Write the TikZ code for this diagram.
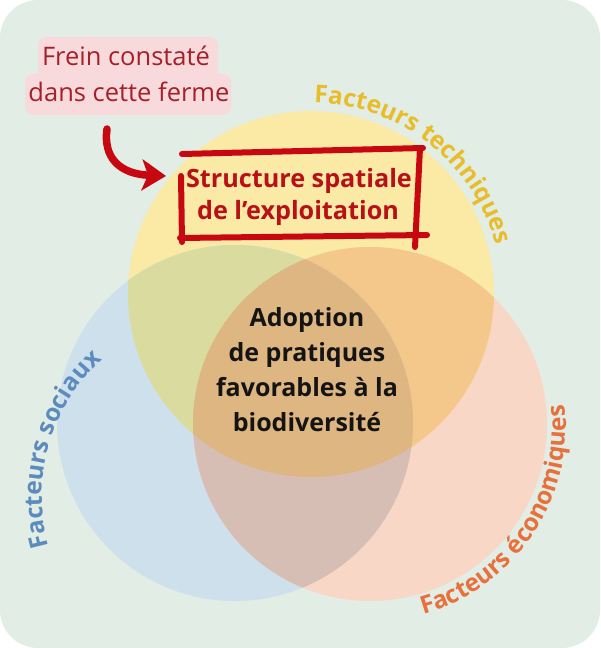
\documentclass[tikz,border=0pt]{standalone}
\usepackage{fontspec}
\setmainfont{Open Sans}
\usetikzlibrary{decorations.text,arrows.meta}
\definecolor{bgc}{HTML}{E2EDE5}
\definecolor{yc}{RGB}{250,234,165}
\definecolor{bc}{RGB}{207,224,237}
\definecolor{oc}{RGB}{249,215,198}
\definecolor{ybc}{RGB}{218,219,158}
\definecolor{yoc}{RGB}{244,200,138}
\definecolor{boc}{RGB}{215,190,181}
\definecolor{yboc}{RGB}{222,182,130}
\definecolor{pinkc}{RGB}{248,218,220}
\definecolor{freinc}{RGB}{165,32,40}
\definecolor{redc}{RGB}{200,8,16}
\definecolor{structc}{RGB}{185,16,24}
\definecolor{techc}{RGB}{233,188,42}
\definecolor{socc}{RGB}{92,140,190}
\definecolor{ecoc}{RGB}{232,112,60}
\tikzset{
  freintxt/.style={anchor=base, text=freinc, font=\fontsize{25.5}{25.5}\selectfont, inner sep=0pt},
  structtxt/.style={anchor=base, text=structc, font=\fontsize{25.2}{25.2}\selectfont\bfseries, inner sep=0pt},
  centertxt/.style={anchor=base, text=black!92, font=\fontsize{25}{25}\selectfont\bfseries, inner sep=0pt},
  handbox/.style={line width=6pt, line cap=round, draw=redc},
  bigarrow/.style={line width=7.5pt, line cap=round, draw=redc, -{Stealth[length=24pt,width=31pt,inset=6pt]}},
}
\begin{document}
\begin{tikzpicture}[x=1pt,y=1pt]
\useasboundingbox (0,0) rectangle (600,648);
\fill[white] (0,0) rectangle (600,648);
\fill[bgc, rounded corners=38pt] (0,0) rectangle (600,648);
% circles
\fill[yc] (311,354) circle[radius=183];
\fill[bc] (235,225) circle[radius=178];
\fill[oc] (370,224) circle[radius=177];
\begin{scope}
  \clip (311,354) circle[radius=183];
  \fill[ybc] (235,225) circle[radius=178];
  \fill[yoc] (370,224) circle[radius=177];
\end{scope}
\begin{scope}
  \clip (235,225) circle[radius=178];
  \fill[boc] (370,224) circle[radius=177];
\end{scope}
\begin{scope}
  \clip (311,354) circle[radius=183];
  \clip (235,225) circle[radius=178];
  \fill[yboc] (370,224) circle[radius=177];
\end{scope}
% pink label
\fill[pinkc, rounded corners=8pt] (38,570) rectangle (218,611);
\fill[pinkc, rounded corners=8pt] (25,533) rectangle (231,574);
\node[freintxt] (frein1) at (126,582) {Frein constaté};
\node[freintxt] (frein2) at (129,546) {dans cette ferme};
% arrow
\coordinate (astart) at (107,519);
\coordinate (aend) at (166,472);
\draw[bigarrow] (astart) .. controls (103,490) and (120,474) .. (aend);
% structure text and hand-drawn box
\node[structtxt] (struct1) at (299,460) {Structure spatiale};
\node[structtxt] (struct2) at (298,428) {de l’exploitation};
\draw[handbox] (182,494) -- (423,500);
\draw[handbox] (420,500) -- (415,401);
\draw[handbox] (180,410) -- (427,413);
\draw[handbox] (181,472) -- (182,406);
% centre text
\node[centertxt] (c1) at (307,321) {Adoption};
\node[centertxt] (c2) at (307,286) {de pratiques};
\node[centertxt] (c3) at (307,251) {favorables à la};
\node[centertxt] (c4) at (307,216) {biodiversité};
% curved labels
\path[decorate, decoration={text along path, text align=center, text color=techc,
  text={|\fontsize{24.5}{24.5}\selectfont\bfseries|Facteurs techniques}}]
  (311,354) ++(100:191) arc[start angle=100, end angle=4, radius=191];
\path[decorate, decoration={text along path, text align=center, text color=socc,
  text={|\fontsize{24.5}{24.5}\selectfont\bfseries|Facteurs sociaux}}]
  (225,152) ++(206:183) arc[start angle=206, end angle=122, radius=183];
\path[decorate, decoration={text along path, text align=center, text color=ecoc,
  text={|\fontsize{24.5}{24.5}\selectfont\bfseries|Facteurs économiques}}]
  (370,222) ++(-82:196) arc[start angle=-82, end angle=14, radius=196];
\end{tikzpicture}
\end{document}
